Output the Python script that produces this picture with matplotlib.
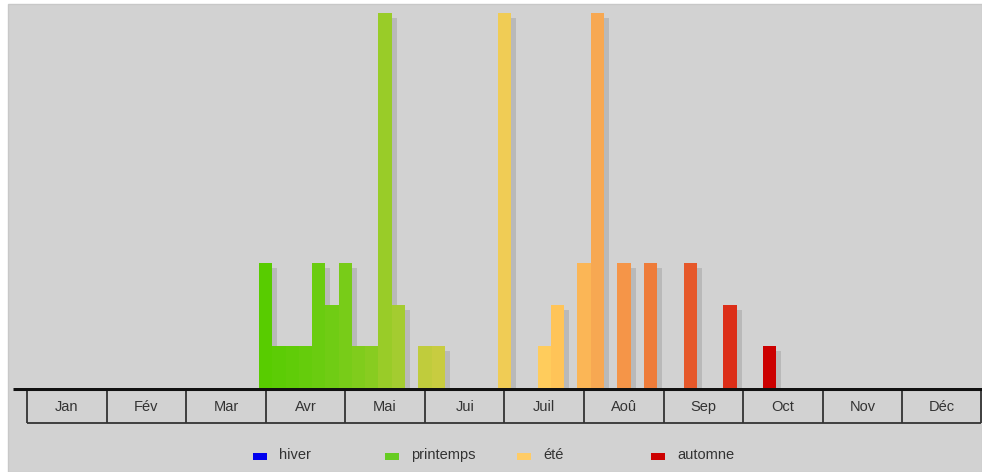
import numpy as np
import matplotlib
matplotlib.use('Agg')
import matplotlib.pyplot as plt
from matplotlib.patches import Rectangle
from matplotlib.transforms import offset_copy

plt.rcParams['font.family'] = ['Liberation Sans', 'DejaVu Sans']

# data: 5-day periods (6 per month), number of observations
months = ['Jan', 'Fév', 'Mar', 'Avr', 'Mai', 'Jui', 'Juil', 'Aoû', 'Sep', 'Oct', 'Nov', 'Déc']
periods = [18, 19, 20, 21, 22, 23, 24, 25, 26, 27, 28, 30, 31, 36, 39, 40, 42, 43, 45, 47, 50, 53, 56]
counts = [3, 1, 1, 1, 3, 2, 3, 1, 1, 9, 2, 1, 1, 9, 1, 2, 3, 9, 3, 3, 3, 2, 1]
bar_colors = ['#58cc00', '#5ccc05', '#60cc08', '#65cc0c', '#6acc10', '#70cc14', '#78cc18',
              '#80cc1c', '#88cc20', '#99cc28', '#a4cc30', '#c0cc3c', '#c8cc40', '#f0cc55',
              '#ffcc5c', '#ffc458', '#fbb656', '#f7a852', '#f59548', '#ee7c3a', '#e6582a',
              '#dc2e18', '#cc0000']
seasons = ['hiver', 'printemps', 'été', 'automne']
season_colors = ['#0000ee', '#66cc22', '#ffcc66', '#cc0000']

W, H = 982, 472
fig = plt.figure(figsize=(W / 100, H / 100), dpi=100)
fig.patch.set_facecolor('white')

def px(x0, y0, x1, y1):
    # figure fraction rect from pixel box (top-left origin)
    return [x0 / W, 1 - y1 / H, (x1 - x0) / W, (y1 - y0) / H]

# gray panel
bg = fig.add_axes([0, 0, 1, 1])
bg.set_xlim(0, W)
bg.set_ylim(H, 0)
bg.axis('off')
bg.add_patch(Rectangle((8, 4), W - 8, H - 4, facecolor='#d2d2d2', edgecolor='#c8c8c8', lw=1))

# bars
ax = fig.add_axes(px(27, 13, 982, 388))
ax.set_xlim(0, 12)
ax.set_ylim(0, 9)
ax.axis('off')
x = (np.array(periods) - 0.5) / 6
shadow = offset_copy(ax.transData, fig=fig, x=5, y=-5, units='dots')
ax.bar(x, counts, width=1 / 6, align='edge', color='#b9b9b9', transform=shadow, clip_on=True, zorder=1)
ax.bar(x, counts, width=1 / 6, align='edge', color=bar_colors, clip_on=False, zorder=2)

# month table
tb = fig.add_axes(px(13, 388, 982, 424))
tb.set_xlim(13, 982)
tb.set_ylim(424, 388)
tb.axis('off')
edges = 27 + np.arange(13) * (955 / 12)
tb.vlines(edges[:-1], 388, 423, color='#333333', lw=1.3)
tb.vlines(981, 388, 423, color='#333333', lw=1.3)
tb.hlines(423, 27, 981, color='#333333', lw=1.3)
tb.hlines(389, 13, 982, color='#111111', lw=2.2)
for i, m in enumerate(months):
    tb.text((edges[i] + edges[i + 1]) / 2, 407, m, ha='center', va='center', fontsize=10.5, color='#333333')

# legend
leg_x = [253, 385, 517, 651]
for lx, s, c in zip(leg_x, seasons, season_colors):
    bg.add_patch(Rectangle((lx, 453), 14, 7, facecolor=c, edgecolor='none'))
    bg.text(lx + 26, 455, s, ha='left', va='center', fontsize=10.5, color='#333333')

plt.savefig('out.png', dpi=100)
